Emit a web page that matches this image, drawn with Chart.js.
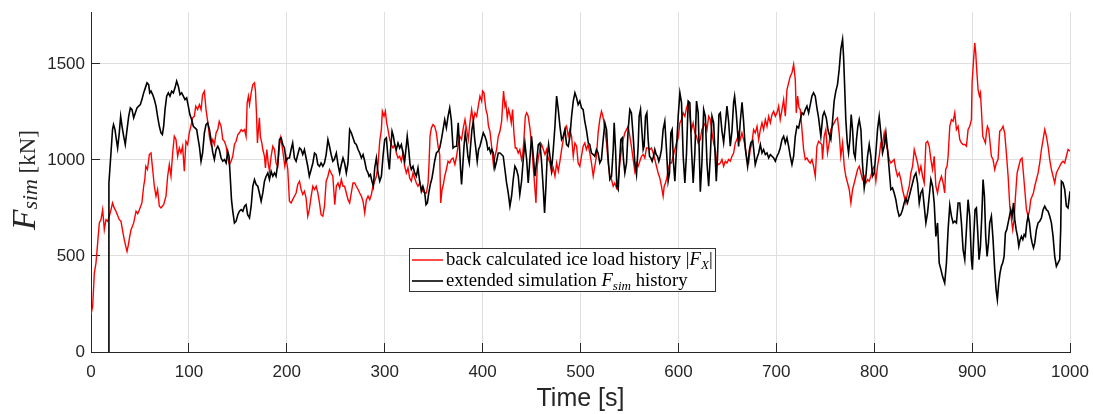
<!DOCTYPE html>
<html><head><meta charset="utf-8">
<script src="https://cdn.jsdelivr.net/npm/chart.js@4/dist/chart.umd.min.js"></script>
<style>html,body{margin:0;padding:0;background:#fff;}canvas{display:block;}</style>
</head><body>
<canvas id="c" width="1093" height="414"></canvas>
<script>
// ---------------- DATA ----------------
const xTicks = [0,100,200,300,400,500,600,700,800,900,1000];
const yTicks = [0,500,1000,1500];
const xTitle = 'Time [s]';
const yTitle = 'F_sim [kN]';
const seriesLabels = ['back calculated ice load history |F_X|', 'extended simulation F_sim history'];

const redT = [0,1.7,3.4,5.1,6.8,8.5,10.2,11.9,13.6,15.3,17,18.7,20.4,22,23.7,25.5,27.2,28.9,30.6,32.3,34,35.5,36.8,38.2,39.5,40.9,43.6,46,47.7,49.4,52,53.8,55,56,57.7,59.6,61.3,63,64.7,66.4,68,69.8,71.5,73,74.2,76.6,78.3,80,81.7,83.4,85.1,86.8,88.5,90.2,91.9,93.6,95.3,97,98.7,100.4,102,103.8,105.5,107,108.9,110.7,112.4,114,115.8,117.5,119.2,121,122.7,124.4,126,127.8,129.5,131,132.9,134.6,136.3,138,139.7,141.4,143.1,144.8,146.5,148.2,150,151.6,153.4,155.1,156.8,158.4,159.5,160.8,161.9,163.6,165.3,167,168,169,170,171,172,173,174.5,175.5,177.2,178.2,179.6,181,182.3,184,185.7,187.4,189,190.8,192.5,193.5,195,196.6,198,199.3,201,202.7,204.4,206,207.8,209.5,211.2,213,214.6,216.3,218,219.7,221.4,223,224.9,226.6,228.3,230,231.7,233.4,235,236.8,238.5,240.2,242,243.6,245.3,247,249,250.6,252.3,254,255.7,257.4,259,260.8,262.5,264.2,265.9,267.6,269.3,271,272.8,274.5,276.2,277.9,279.6,281.3,283,284.7,286.4,288,289.8,291.5,293.2,294.9,296.6,297.6,299.3,300.7,302,303.4,305.1,306.8,308.5,310.2,311.9,313.6,315.3,317,318.7,320.4,322.1,323.8,325.5,327.2,328.9,330.6,332.3,334,335.7,337.4,339,340.9,342.6,344.3,345.3,346.3,347.7,349.4,351,352.8,354.5,356.2,357.2,358.6,359.9,361.3,363,364.7,366.4,368,369.8,371.7,373.4,375.1,376.8,378.5,380.3,382,383.7,385.4,387,388.8,390.5,392.2,393.9,395.6,397.3,399,400,401.4,402.4,403.4,404.8,406,407.5,409.2,410.2,411.2,412.6,414.3,416,417.7,419.4,420.4,421.4,422.8,423.8,425.2,426.6,428,429.3,430.6,432,433.4,434.7,436.4,438,439.8,441,442.2,443.6,445,446.6,448.3,450,451.8,453.5,454.5,455.8,457.2,458.6,460.3,462,463.7,465.4,467,468.8,470.5,472.2,473.9,475.6,477.3,479,480.7,482.4,484.1,485.8,487.5,489.2,490.9,492.6,494.3,496,497.6,499.3,501,502.7,504.4,506,507.8,509.5,511.2,513,514.6,516.3,518,519.7,521.4,522.5,523.5,524.9,526.6,528.3,530,531.7,533.4,535,536.8,538.5,540.2,541.9,543.6,545.3,547,548.7,550.4,552,553.8,555.5,557.2,558.9,560.6,562.3,564,565.7,567.4,569.1,570.8,572.5,574.2,575.9,577.6,579.3,581,582.7,584.4,585.5,586.8,588.2,589.5,591.2,593,594.6,596.4,598,599.8,601.5,603.2,604.9,606.6,608.3,610,611.7,613.4,615.1,616.8,618.5,620.2,622.4,624,625.8,627.5,629.2,630.9,632.6,634.3,636,637.7,639.4,641.1,642.8,644.5,646.2,647.9,649.6,651.3,653,654.7,656.4,658.1,659.8,661.5,663.2,664.9,666.6,668.3,670,671.7,673.4,675.1,676.8,678.5,680.3,682,683.7,685.4,687,688.8,690.5,692.2,693.9,695.6,697.3,699,700.7,702.4,704,705.8,707.5,709.2,710.9,712.6,714.3,716,717.7,719.4,720.4,721.8,723.2,724.5,726.2,727.9,729.6,731.3,733,734.7,736.4,738.1,739.8,741.5,743.2,744.9,746.5,747.2,748.9,750.6,752.3,754,755.7,757.4,759.1,760.8,762.5,764.2,765.9,767.7,769.4,771,772.8,774.5,776.2,777.9,779.6,781.3,783,784.7,786.4,788,789.8,791.5,793.2,794.9,796.6,798.3,800,801.7,803.4,805.1,806.8,808.5,810.2,811.9,813.6,815.3,817,818.7,820.4,822.1,823.8,825.5,827.2,828.9,830.6,832.3,834,835.8,837.5,839.2,840.9,842.6,844.3,846,847.7,849.4,851.1,852.8,854.5,856.2,857.9,859.6,861.3,863,864.7,866.4,868.7,870.4,872,873,874.4,875.5,877.2,878.9,880.6,882.3,884,885.7,887.4,889.1,890.8,892.5,894.2,895.9,897.6,899.3,900,901.3,902.7,903.7,904.7,906.1,907.5,908.5,909.5,910.9,912.2,913.6,914.6,915.6,917,918.4,919.7,921.4,923.1,924.8,926.5,928.2,929.9,931.6,933.3,935,936.8,938.5,940.2,941.5,942.9,944.3,946,947.7,949.4,951,952.4,953.8,955.5,957.2,958.5,959.9,961.3,962.6,964,965.7,967.4,969.1,970.8,972.5,974.2,975.9,977.6,979.3,981,982.7,984.4,986.1,987.8,989.5,991.2,992.9,994.6,996.3,998,1000];
const redV = [195,238,411,464,568,672,689,741,637,689,681,707,740,776,750,733,710,689,681,630,585,550,524,559,600,637,672,733,720,741,776,863,900,967,950,1028,1036,950,863,811,846,759,750,760,767,811,915,976,915,1036,1123,1106,1019,1062,1036,1071,941,1097,1080,1141,1175,1219,1227,1280,1262,1288,1262,1340,1358,1262,1201,1120,1080,1106,1080,1141,1158,1201,1175,1106,1097,1071,1010,976,993,1019,1080,1097,1132,1141,1158,1149,1158,1123,1297,1332,1288,1349,1392,1401,1358,1245,1088,1158,1219,1123,1088,1054,1019,958,1054,984,941,1019,1071,1054,984,967,1071,1115,1080,1019,967,1010,950,785,776,793,811,828,872,889,846,820,837,802,707,741,811,863,846,863,828,776,715,707,759,889,915,950,932,915,767,863,880,854,898,863,863,828,793,776,828,880,880,863,846,828,811,785,724,793,811,793,820,863,889,915,976,1097,1158,1253,1227,1253,1193,1158,1106,1080,1062,1080,1036,1010,1019,993,1036,967,932,958,906,889,932,906,880,863,880,854,837,828,828,880,984,1123,1167,1184,1175,1141,1071,1028,776,846,872,915,950,993,984,1002,1010,976,1019,1080,1123,1106,1167,1210,1158,1106,1193,1262,1201,1245,1227,1280,1332,1306,1358,1349,1306,1262,1236,1175,1149,1071,1019,967,1019,1054,1123,1149,1201,1280,1358,1280,1297,1219,1262,1236,1193,1262,1141,1062,1062,1036,1054,1002,1028,1106,1227,1245,1227,1167,1088,958,846,776,967,1019,1054,1080,1054,1028,1054,1010,984,932,958,915,984,941,993,1054,1106,1158,1175,1123,1158,1123,1019,1088,1071,984,967,1019,1071,1088,1054,1080,1036,984,915,967,1019,1141,1210,1253,1236,1210,1158,1088,984,915,898,863,880,854,898,984,1054,1106,1141,1158,1175,1123,1071,1002,941,984,967,993,1019,1028,1010,1062,1062,1054,1062,1036,1002,967,932,906,863,811,863,880,906,950,984,984,1019,1054,1088,1115,1193,1210,1245,1227,1271,1297,1227,1158,1193,1141,1123,1088,1106,1158,1175,1193,1158,1227,1210,1141,1088,1054,984,976,984,1002,967,993,984,1002,993,1019,1036,1088,1106,1141,1106,1141,1106,1071,1002,984,1054,1088,1158,1141,1175,1106,1158,1193,1158,1210,1175,1227,1193,1236,1253,1227,1245,1280,1210,1262,1314,1227,1366,1401,1436,1453,1497,1418,1245,1332,1271,1262,1158,1054,1002,1010,993,984,1002,967,915,1071,1097,1088,1080,1002,1123,1158,1036,1088,1158,1175,1193,1210,1219,1141,1019,1088,967,915,880,846,776,846,880,915,950,967,932,898,915,880,898,889,915,950,967,889,967,1019,1088,1080,1141,1088,1054,1002,984,993,1002,950,915,932,898,846,811,776,828,863,932,967,1054,1019,984,932,967,915,880,1088,1097,1071,1002,950,1019,863,828,880,915,880,828,950,967,1019,1175,1210,1201,1245,1158,1175,1106,1088,1080,1080,1071,1158,1175,1210,1401,1505,1609,1557,1470,1366,1332,1349,1262,1123,1106,1088,1141,1175,1158,1088,1019,1002,950,984,1002,1149,1158,1175,1141,1036,915,759,689,637,689,811,932,967,1002,1010,932,846,741,707,733,793,811,828,863,898,932,984,1054,1106,1158,1123,1071,1002,950,915,880,932,950,967,984,993,984,1019,1054,1045];

const blackT = [18,18.3,19,20.4,22,23,24.5,25.9,27.2,28.9,30.3,31.7,33.4,35,36.8,38.5,40.2,41.9,43.6,45.3,47,48.7,50.4,52,53.8,55.5,57.2,58.9,60,61.3,63,64.7,66.4,68,69.8,71.5,72.9,74.2,75.6,77.3,79,80.7,82.4,84.1,85.8,87.5,89.2,90.9,92.6,94.3,96,97.7,99.4,101,102.8,104.5,106.2,108,109,110.7,112.4,114,115.8,117.5,119.2,121,122.6,124.3,126,127.8,129.5,131,132.9,134.6,136.3,138,139.7,141,142,143.5,144.8,146.5,148.2,150,151.6,153.4,155.1,156.8,158.4,160,161.9,163.6,165.3,167,168.7,170.4,172,173.8,175.5,177.2,178.9,180.6,182.3,184,185.7,187.4,189,190.8,192.5,194.2,195.9,197.6,199.3,201,202.7,204.4,206,207.8,209.5,211.2,213,214.6,216.3,218,219.7,221.4,223,224.9,226.6,228.3,230,231.7,233.4,235,236.8,238.5,240.2,242,243.6,245.3,247,248.5,250.6,252.3,254,255.7,257.4,259,260.8,262.5,264.2,265.9,267.6,269.4,271,272.8,274.5,276.2,277.9,279.6,281.3,283,284,285.4,287,288.4,289.8,291.5,293.2,294.9,296.6,298.3,300,301.7,303.4,304.8,306,307.5,308.9,310.2,311.9,313.6,315.3,317,318.7,320.4,322,323,324.5,325.9,327.2,328.9,330.6,332.3,334,335.7,337.4,339,340.9,342.2,343.6,345,346.6,348.3,349.7,351,352.8,354.5,356.2,357.9,359.6,361.3,363,364.7,366.4,368,369.8,371.6,373.4,375.1,376,377.5,378.5,379.5,381,382.3,383.7,385,386.4,387.7,389.1,390.5,391.8,393.2,394.5,395.9,397.3,399,400.7,402.4,404,405.4,406.8,408.2,409.5,410.9,412.6,414.3,416,417.7,419.4,421.1,422.8,424.5,426.2,427.9,429.6,431.3,433,434.7,436.4,438,439.8,441.5,443.2,445,446.6,448.3,450,451.8,453.5,455.2,456.9,458.6,460.3,462,463.3,464.7,466,467.4,468.8,470.5,472.2,473.9,475.6,477.3,479,480.7,482.4,484.1,485.8,487.5,489.2,490.9,492.6,494.3,496,497.6,499.3,501,502.7,504.4,506,508,509.5,511.2,513,514.6,516.3,518,519.7,521.4,523,524.9,526.6,528.3,530,531.7,533.4,534.4,535.8,537.1,538.5,539.8,541.2,542.6,543.9,545.3,547,548.7,550.4,552,553.8,555.5,557.2,558.9,559.9,561.3,562.6,564,565,566.4,567.8,569.1,570.5,571.8,573.2,574.6,575.9,577.3,578.7,580,581.4,582.7,584.4,586.1,587.8,589.5,590.9,592.3,593.6,595,596.4,598,599.8,601.5,603.2,604.9,606.6,608.3,610,611.7,613.4,615.1,616.8,618.5,620.2,622.4,624,625.8,627.5,629.2,630.9,632.6,634.3,636,637.7,638.7,640,641.4,642.8,644.5,646.2,647.9,649.6,651.3,653,654.7,656.4,657.4,659,661.5,663.2,665,666.6,668.3,670.7,672.5,674,676,678.5,680.3,682,683.7,685.4,687,688.8,690.5,692.2,693.9,695.6,697.3,699,700.7,702.4,704,705.8,707.5,709.2,710.9,712.6,714.3,716,717.7,719.4,721.1,722.8,724.5,726.2,727.9,729.6,731.3,733,734.7,736.4,738.1,739.8,741.5,743.2,745.5,747.5,749,751,753,755.7,757.4,759.1,760.8,762.5,764.2,765.9,767.7,768.7,769.7,771,772.5,773.8,775.2,776.5,777.9,779.2,780.6,781.9,783.3,784.7,786.4,788,789.8,791.5,793.2,794.9,796.6,798.3,800,801.7,803.4,805.1,806.8,808.5,810.2,811.9,813.6,815.3,817,818.7,820.4,822.1,823.8,825.5,827.2,828.9,830.6,832.3,834,835.8,837.5,839.2,840.9,842.6,844.3,846,847.7,849.4,851.1,852.8,854.5,856.2,857.9,859.6,861.3,863,864.7,866.4,868.1,869.8,872,873.8,875.5,877.2,878.9,880.6,882.3,884,885.7,887.4,889.1,890.8,892.5,894.2,895.9,897.6,899.3,900.3,901.7,903,904.4,905.8,907.1,908.5,909.9,911.2,912.6,913.9,915.3,916.7,918,919.7,921.4,923.1,924.5,925.8,927.2,928.5,929.9,931.3,932.7,934,935.4,936.8,938.2,939.5,940.9,942.3,943.6,945,946.4,947.7,949.1,950.4,951.8,953.2,954.5,955.9,957.2,958.6,960,961.3,962.7,964,965.7,967.4,969.1,970.8,972.5,974.2,975.9,977.6,979.3,981,982.7,984.4,986.1,987.8,989.5,990.5,991.2,992.9,994.6,996.3,998,1000];
const blackV = [0,880,932,1036,1158,1184,1158,1106,1062,1141,1227,1175,1123,1080,1158,1227,1271,1262,1219,1245,1271,1280,1288,1314,1349,1375,1401,1392,1349,1358,1340,1314,1280,1227,1175,1141,1132,1175,1262,1332,1349,1332,1358,1349,1375,1410,1384,1340,1349,1332,1314,1323,1280,1236,1210,1175,1167,1158,1123,1071,993,1036,1141,1184,1193,1158,1106,1040,1002,1054,1071,1054,1010,993,1002,984,1045,1019,932,793,733,672,681,715,733,741,733,759,767,715,698,759,863,898,872,863,828,785,828,889,915,932,898,941,915,932,915,984,1106,1115,1080,1062,993,1010,1010,1054,1088,1010,993,1028,1062,1054,1028,1054,1010,967,915,950,984,1036,1028,976,967,984,967,984,1028,1106,1071,1028,993,1002,1036,976,932,976,1010,984,932,984,1158,1141,1115,1088,1080,1054,1036,1010,1028,993,950,932,915,924,889,863,958,1010,932,889,915,1019,1106,1115,1010,950,1054,1149,1123,1080,1054,1088,1062,1080,1036,993,1071,1123,1054,976,950,967,932,915,958,889,837,863,828,767,776,828,872,906,950,993,1036,1045,1062,1106,1158,1210,1167,1227,1271,1210,1062,1070,1071,1193,1106,950,872,950,1071,1141,1088,1019,984,1071,1158,1201,1115,1054,993,1054,1071,1106,1141,1123,1097,1054,1062,1036,1054,1036,958,993,1036,1036,1028,1019,950,880,828,759,811,898,967,950,915,820,889,1002,1088,1002,880,1002,1123,1019,915,993,1080,1088,984,846,724,863,1019,1080,1019,950,1054,1175,1332,1262,1175,1106,1123,1158,1080,1071,1123,1227,1306,1349,1323,1288,1306,1271,1262,1201,1158,1088,1080,1036,1028,1019,1054,1036,984,1002,1097,1193,1158,1002,898,915,1054,1193,1054,863,846,984,1106,1115,1002,932,984,1158,1262,1245,1123,984,924,1071,1227,1262,1158,1054,1071,1227,1245,1106,1019,1010,993,1019,1054,1028,1019,993,1019,1054,1158,1201,1054,889,932,1141,1158,984,889,1054,1227,1349,1297,1019,880,1036,1306,1297,1054,880,1036,1306,1245,835,984,1262,1227,984,863,1019,1227,1193,1002,889,1019,1236,1245,1150,1090,1180,1280,1200,1071,1150,1300,1332,1250,1070,1200,1300,1200,1060,967,1050,1090,1100,976,1010,1036,1080,1036,1054,1028,1036,1010,1028,1019,1010,993,1019,1036,1062,1106,1123,1088,1115,1071,1019,976,1019,1123,1175,1167,1210,1245,1236,1262,1280,1245,1288,1332,1349,1332,1271,1219,1123,1230,1250,1220,1150,1106,1200,1306,1358,1392,1470,1575,1627,1540,1401,1210,1088,1036,1106,1236,1158,1036,1010,1106,1175,1210,1158,984,854,915,1019,1080,1019,915,932,1036,1158,1227,1141,1036,1071,1141,1054,950,846,854,828,793,741,707,715,741,776,802,776,811,846,880,915,932,880,776,828,846,759,672,724,811,898,863,776,602,672,464,430,394,359,464,637,764,707,672,681,672,776,776,672,533,481,637,793,707,481,429,602,741,750,620,481,550,707,898,811,602,498,568,672,707,585,429,325,273,359,411,446,464,498,620,637,672,707,741,707,776,689,637,602,550,585,602,585,611,602,672,707,672,602,568,542,568,637,672,681,698,741,759,741,733,707,672,602,498,446,464,481,637,889,880,846,759,750,837];

// ---------------- CHART ----------------
const SANS = '"Liberation Sans", Arial, sans-serif';
const SERIF = '"Liberation Serif", "DejaVu Serif", serif';
const AXIS_COLOR = '#262626';
const GRID_COLOR = '#dfdfdf';

function toPoints(ts, vs){ return ts.map((t,i)=>({x:t, y:vs[i]})); }
function alignPx(p){ return Math.round(p - 0.5) + 0.5; }

function drawSegs(ctx, segs, x, y){
  let cx = x;
  for (const s of segs){
    ctx.font = s.f;
    ctx.fillText(s.t, cx, y + (s.dy||0));
    cx += ctx.measureText(s.t).width;
  }
  return cx - x;
}
function measureSegs(ctx, segs){
  let w = 0;
  for (const s of segs){ ctx.font = s.f; w += ctx.measureText(s.t).width; }
  return w;
}
const legendSegs = [
  S => [
    {t:'back calculated ice load history ', f:`${S}px ${SERIF}`},
    {t:'|', f:`${S}px ${SERIF}`},
    {t:'F', f:`italic ${S}px ${SERIF}`},
    {t:'X', f:`italic ${S*0.7}px ${SERIF}`, dy:S*0.22},
    {t:'|', f:`${S}px ${SERIF}`}
  ],
  S => [
    {t:'extended simulation ', f:`${S}px ${SERIF}`},
    {t:'F', f:`italic ${S}px ${SERIF}`},
    {t:'sim', f:`italic ${S*0.7}px ${SERIF}`, dy:S*0.22},
    {t:' history', f:`${S}px ${SERIF}`}
  ]
];
const yTitleSegs = k => [
  {t:'F', f:`italic ${32*k}px ${SERIF}`},
  {t:'sim', f:`italic ${21*k}px ${SERIF}`, dy:2*k},
  {t:' [kN]', f:`${22*k}px ${SERIF}`}
];

const decor = {
  id: 'decor',
  beforeDatasetsDraw(chart){
    const {ctx, chartArea:a, scales:{x, y}} = chart;
    ctx.save();
    ctx.strokeStyle = AXIS_COLOR; ctx.lineWidth = 1;
    ctx.beginPath();
    xTicks.forEach(v => { const px = alignPx(x.getPixelForValue(v)); ctx.moveTo(px, a.bottom); ctx.lineTo(px, a.bottom - 9); });
    yTicks.forEach(v => { const py = alignPx(y.getPixelForValue(v)); ctx.moveTo(a.left, py); ctx.lineTo(a.left + 9, py); });
    ctx.stroke();
    ctx.restore();
  },
  afterDraw(chart){
    const ctx = chart.ctx;
    const ds = chart.data.datasets;
    ctx.save();
    const bx = 409.5, by = 248.5, bw = 306, bh = 43;
    ctx.fillStyle = '#ffffff';
    ctx.fillRect(bx, by, bw, bh);
    ctx.strokeStyle = '#333333'; ctx.lineWidth = 1;
    ctx.strokeRect(bx, by, bw, bh);
    const w100 = measureSegs(ctx, legendSegs[0](100));
    const S = 100 * 267 / w100;
    const rows = [{y:260, base:265}, {y:281, base:286}];
    ds.forEach((d, i) => {
      ctx.strokeStyle = d.borderColor; ctx.lineWidth = d.borderWidth;
      ctx.beginPath(); ctx.moveTo(412, rows[i].y); ctx.lineTo(443, rows[i].y); ctx.stroke();
      ctx.fillStyle = '#000000'; ctx.textBaseline = 'alphabetic'; ctx.textAlign = 'left';
      drawSegs(ctx, legendSegs[i](S), 446, rows[i].base);
    });
    const wy = measureSegs(ctx, yTitleSegs(1));
    const k = 100 / wy;
    ctx.translate(35, 230);
    ctx.rotate(-Math.PI/2);
    ctx.fillStyle = AXIS_COLOR;
    drawSegs(ctx, yTitleSegs(k), 0, 0);
    ctx.restore();
  }
};

new Chart(document.getElementById('c'), {
  type: 'line',
  data: {
    datasets: [
      { label: seriesLabels[0], data: toPoints(redT, redV), borderColor: '#ff0000', borderWidth: 1.4, pointRadius: 0, tension: 0, order: 1 },
      { label: seriesLabels[1], data: toPoints(blackT, blackV), borderColor: '#000000', borderWidth: 1.6, pointRadius: 0, tension: 0, order: 0 }
    ]
  },
  options: {
    responsive: false,
    animation: false,
    devicePixelRatio: 1,
    layout: { padding: { left: 0, top: 12, right: 23, bottom: 0 } },
    plugins: { legend: { display: false }, tooltip: { enabled: false } },
    scales: {
      x: {
        type: 'linear', min: 0, max: 1000,
        afterBuildTicks: s => { s.ticks = xTicks.map(v => ({value: v})); },
        afterFit: s => { s.height = 62; s.paddingLeft = 0; s.paddingRight = 0; },
        ticks: { font: { family: SANS, size: 17 }, color: AXIS_COLOR, padding: 10, maxRotation: 0, autoSkip: false, callback: v => String(v) },
        grid: { color: GRID_COLOR, drawTicks: false, lineWidth: 1 },
        border: { color: AXIS_COLOR, width: 1 },
        title: { display: true, text: xTitle, font: { family: SANS, size: 25, lineHeight: 1 }, color: AXIS_COLOR, padding: { top: 0, bottom: 2 } }
      },
      y: {
        type: 'linear', min: 0, max: 1770,
        afterBuildTicks: s => { s.ticks = yTicks.map(v => ({value: v})); },
        afterFit: s => { s.width = 91; s.paddingTop = 0; s.paddingBottom = 0; },
        ticks: { font: { family: SANS, size: 17 }, color: AXIS_COLOR, padding: 6, callback: v => String(v) },
        grid: { color: GRID_COLOR, drawTicks: false, lineWidth: 1 },
        border: { color: AXIS_COLOR, width: 1 }
      }
    }
  },
  plugins: [decor]
});
</script>
</body></html>
